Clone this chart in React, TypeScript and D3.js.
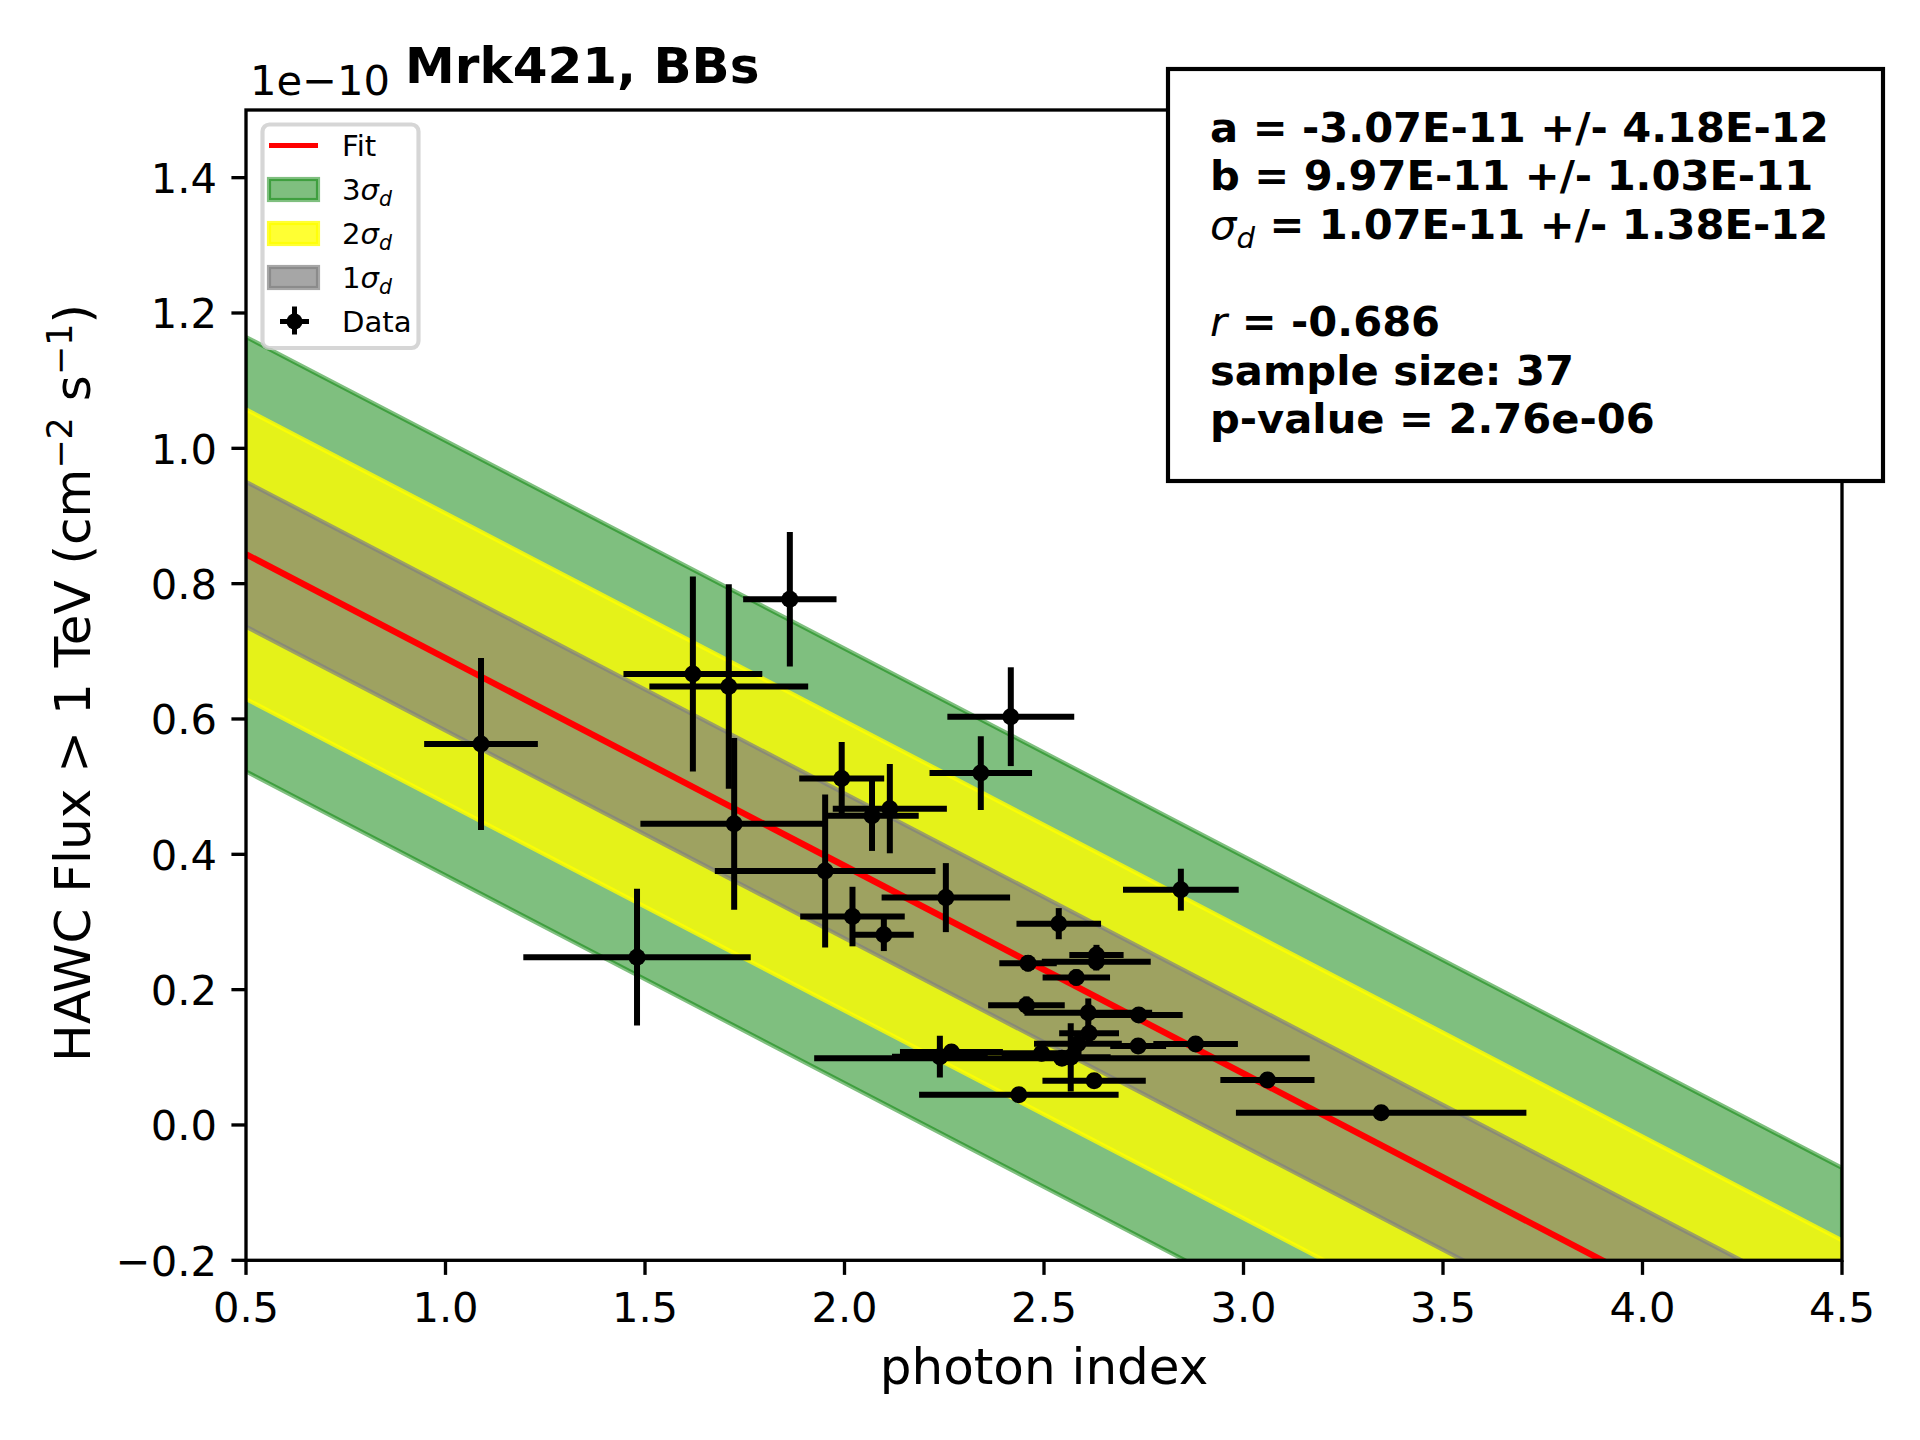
import React from 'react';
import * as d3 from 'd3';

// photon index vs HAWC flux (flux in units of 1e-10 cm^-2 s^-1)
const PHOTON_INDEX = [
  1.089, 1.48, 1.62, 1.71, 1.7235, 1.863, 1.9515, 1.993, 2.02, 2.069,
  2.1136, 2.0986, 2.254, 2.3416, 2.4168, 2.537, 2.843, 2.46, 2.6315, 2.631,
  2.581, 2.456, 2.611, 2.7375, 2.613, 2.736, 2.88, 2.567, 2.545, 2.494,
  2.239, 2.268, 2.6256, 2.437, 3.06, 3.345, 2.585,
];
const PHOTON_INDEX_ERR = [
  0.1425, 0.285, 0.174, 0.199, 0.235, 0.117, 0.2765, 0.1065, 0.131, 0.117,
  0.143, 0.075, 0.161, 0.1285, 0.159, 0.106, 0.145, 0.072, 0.068, 0.1365,
  0.0845, 0.096, 0.16, 0.11, 0.075, 0.07, 0.106, 0.1, 0.621, 0.1,
  0.12, 0.129, 0.1295, 0.25, 0.118, 0.364, 0.11,
];
const FLUX = [
  0.563, 0.248, 0.6665, 0.648, 0.445, 0.777, 0.3754, 0.512, 0.308, 0.457,
  0.4675, 0.281, 0.336, 0.52, 0.6034, 0.2975, 0.3477, 0.239, 0.2512, 0.2413,
  0.218, 0.177, 0.166, 0.1625, 0.1355, 0.1167, 0.1197, 0.1, 0.0985, 0.106,
  0.101, 0.108, 0.0655, 0.0448, 0.0665, 0.018, 0.12,
];
const FLUX_ERR = [
  0.127, 0.101, 0.144, 0.151, 0.127, 0.0995, 0.113, 0.054, 0.044, 0.052,
  0.066, 0.024, 0.051, 0.0545, 0.073, 0.023, 0.031, 0.012, 0.015, 0.013,
  0.012, 0.013, 0.021, 0.01, 0.012, 0.01, 0.01, 0.0505, 0.008, 0.012,
  0.031, 0.008, 0.008, 0.006, 0.008, 0.006, 0.01,
];

// fit parameters (1e-10 units)
const FIT_A = -0.307;
const FIT_B = 0.997;
const SIGMA_D = 0.107;

const BAND_LEVELS = [3, 2, 1];
const BAND_COLORS = ['#008000', '#ffff00', '#808080'];
const BAND_ALPHA = [0.5, 0.8, 0.7];

const X_TICKS = [0.5, 1.0, 1.5, 2.0, 2.5, 3.0, 3.5, 4.0, 4.5];
const Y_TICKS = [-0.2, 0.0, 0.2, 0.4, 0.6, 0.8, 1.0, 1.2, 1.4];

const STATS_LINES = [
  { sym: 'a', sub: '', rest: ' = -3.07E-11 +/- 4.18E-12' },
  { sym: 'b', sub: '', rest: ' = 9.97E-11 +/- 1.03E-11', bold: true },
  { sym: 'σ', sub: 'd', rest: ' = 1.07E-11 +/- 1.38E-12' },
  null,
  { sym: 'r', sub: '', rest: ' = -0.686' },
  { sym: 'sample size: 37', sub: '', rest: '' },
  { sym: 'p-value = 2.76e-06', sub: '', rest: '' },
];

const FONT = '"DejaVu Sans", sans-serif';
const PT = 300 / 72;

export default function App() {
  const W = 1920;
  const H = 1440;
  const left = 246, right = 1842, top = 110, bottom = 1260.3;

  const x = d3.scaleLinear().domain([0.5, 4.5]).range([left, right]);
  const y = d3.scaleLinear().domain([-0.2, 1.5]).range([bottom, top]);
  const fit = (v: number) => FIT_A * v + FIT_B;
  const xs = x.domain();

  const bandPath = (k: number) =>
    d3.area<number>()
      .x(d => x(d))
      .y0(d => y(fit(d) - k * SIGMA_D))
      .y1(d => y(fit(d) + k * SIGMA_D))(xs) || '';
  const fitPath = d3.line<number>().x(d => x(d)).y(d => y(fit(d)))(xs) || '';

  const fmt = (v: number) => d3.format('.1f')(v).replace('-', '\u2212');
  const tickFs = 10 * PT;

  const pts = PHOTON_INDEX.map((px, i) => ({
    x: px, y: FLUX[i], xe: PHOTON_INDEX_ERR[i], ye: FLUX_ERR[i],
  }));

  const legFs = 7 * PT;
  const legY = (i: number) => 145.5 + i * 44;
  const sigmaLabel = (n: string) => (
    <>
      <tspan>{n}</tspan>
      <tspan fontStyle="italic">σ</tspan>
      <tspan fontStyle="italic" fontSize={legFs * 0.7} dy={6}>d</tspan>
    </>
  );

  const statFs = 10 * PT;

  return (
    <div style={{ position: 'absolute', left: 0, top: 0 }}>
      <style>{'body{margin:0;overflow:hidden}'}</style>
      <svg width={W} height={H} viewBox={`0 0 ${W} ${H}`} fontFamily={FONT}>
        <rect width={W} height={H} fill="#fff" />
        <defs>
          <clipPath id="plotArea">
            <rect x={left} y={top} width={right - left} height={bottom - top} />
          </clipPath>
        </defs>

        <g clipPath="url(#plotArea)">
          {BAND_LEVELS.map((k, i) => (
            <path key={k} d={bandPath(k)}
              fill={BAND_COLORS[i]} fillOpacity={BAND_ALPHA[i]}
              stroke={BAND_COLORS[i]} strokeOpacity={BAND_ALPHA[i]}
              strokeWidth={PT} />
          ))}
          <path d={fitPath} fill="none" stroke="#ff0000" strokeWidth={1.5 * PT} />
          {pts.map((p, i) => (
            <g key={i} stroke="#000" strokeWidth={6}>
              <line x1={x(p.x - p.xe)} x2={x(p.x + p.xe)} y1={y(p.y)} y2={y(p.y)} />
              <line x1={x(p.x)} x2={x(p.x)} y1={y(p.y - p.ye)} y2={y(p.y + p.ye)} />
            </g>
          ))}
          {pts.map((p, i) => (
            <circle key={i} cx={x(p.x)} cy={y(p.y)} r={8.5} fill="#000" />
          ))}
        </g>

        {/* spines */}
        <rect x={left} y={top} width={right - left} height={bottom - top}
          fill="none" stroke="#000" strokeWidth={0.8 * PT} />

        {/* x axis */}
        {X_TICKS.map(t => (
          <g key={t}>
            <line x1={x(t)} x2={x(t)} y1={bottom} y2={bottom + 3.5 * PT}
              stroke="#000" strokeWidth={0.8 * PT} />
            <text x={x(t)} y={1321.7} fontSize={tickFs} textAnchor="middle">{fmt(t)}</text>
          </g>
        ))}
        <text x={(left + right) / 2} y={1384} fontSize={12 * PT} textAnchor="middle">photon index</text>

        {/* y axis */}
        {Y_TICKS.map(t => (
          <g key={t}>
            <line x1={left - 3.5 * PT} x2={left} y1={y(t)} y2={y(t)}
              stroke="#000" strokeWidth={0.8 * PT} />
            <text x={217} y={y(t) + 0.365 * tickFs} fontSize={tickFs} textAnchor="end">{fmt(t)}</text>
          </g>
        ))}
        <text x={250} y={95} fontSize={tickFs}>1e{'\u2212'}10</text>
        <text transform="translate(90,683) rotate(-90)" fontSize={12 * PT} textAnchor="middle"
          style={{ whiteSpace: 'pre' }}>
          <tspan>HAWC Flux &gt; 1 TeV (cm</tspan>
          <tspan fontSize={12 * PT * 0.7} dy={-18}>{'\u2212'}2</tspan>
          <tspan dy={18}> s</tspan>
          <tspan fontSize={12 * PT * 0.7} dy={-18}>{'\u2212'}1</tspan>
          <tspan dy={18}>)</tspan>
        </text>

        {/* title */}
        <text x={405} y={83} fontSize={12 * PT} fontWeight="bold">Mrk421, BBs</text>

        {/* legend */}
        <rect x={262.5} y={124.5} width={156} height={223.5} rx={7}
          fill="#fff" fillOpacity={0.8} stroke="#cccccc" strokeOpacity={0.8} strokeWidth={PT} />
        <line x1={269} x2={318} y1={legY(0)} y2={legY(0)} stroke="#ff0000" strokeWidth={5} />
        {BAND_LEVELS.map((k, i) => (
          <rect key={k} x={269} y={legY(i + 1) - 10.5} width={49} height={21}
            fill={BAND_COLORS[i]} fillOpacity={BAND_ALPHA[i]}
            stroke={BAND_COLORS[i]} strokeOpacity={BAND_ALPHA[i]} strokeWidth={PT} />
        ))}
        <g stroke="#000" strokeWidth={5}>
          <line x1={280} x2={309} y1={legY(4)} y2={legY(4)} />
          <line x1={294.5} x2={294.5} y1={legY(4) - 15} y2={legY(4) + 13} />
        </g>
        <circle cx={294.5} cy={legY(4)} r={8} fill="#000" />
        <g fontSize={legFs}>
          <text x={342} y={legY(0) + 10.5}>Fit</text>
          {BAND_LEVELS.map((k, i) => (
            <text key={k} x={342} y={legY(i + 1) + 10.5}>{sigmaLabel(String(k))}</text>
          ))}
          <text x={342} y={legY(4) + 10.5}>Data</text>
        </g>

        {/* statistics box */}
        <rect x={1168} y={69} width={715} height={412} fill="#fff" stroke="#000" strokeWidth={PT} />
        <g fontSize={statFs} style={{ whiteSpace: 'pre' }}>
          {STATS_LINES.map((ln, i) => {
            if (!ln) return null;
            const by = 141.7 + i * 48.6;
            const math = ln.sym === 'σ' || ln.sym === 'r';
            return (
              <text key={i} x={1210} y={by}>
                <tspan fontWeight={math ? 'normal' : 'bold'} fontStyle={math ? 'italic' : 'normal'}>{ln.sym}</tspan>
                {ln.sub && (
                  <tspan fontStyle="italic" fontSize={statFs * 0.7} dy={9}>{ln.sub}</tspan>
                )}
                {ln.rest && (
                  <tspan fontWeight="bold" dy={ln.sub ? -9 : 0}>{ln.rest}</tspan>
                )}
              </text>
            );
          })}
        </g>
      </svg>
    </div>
  );
}
